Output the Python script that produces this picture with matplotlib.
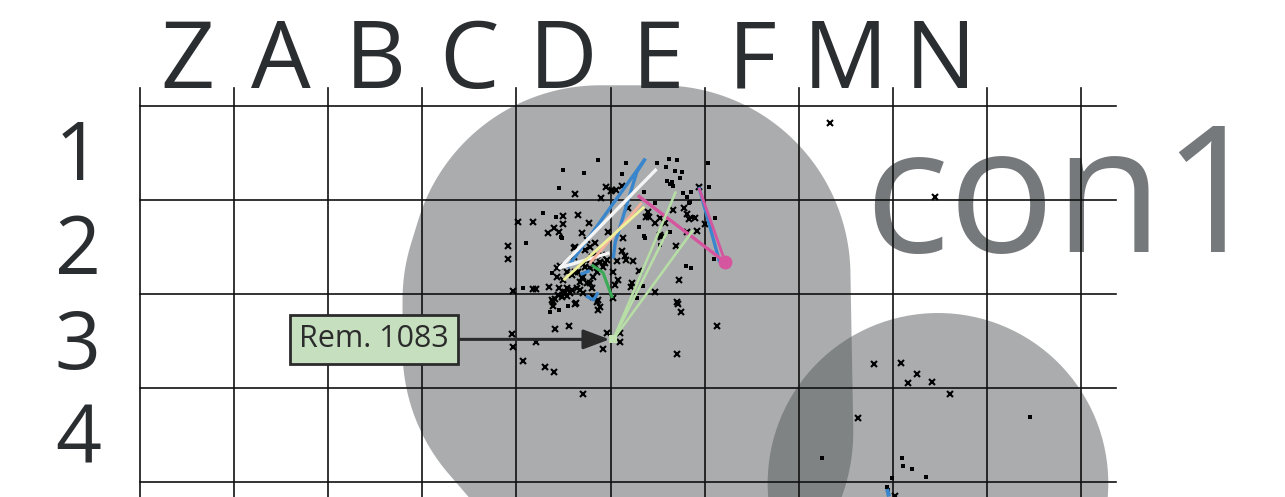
import numpy as np
import matplotlib.pyplot as plt
from matplotlib.patches import Polygon, Circle

plt.rcParams['font.family'] = ['Open Sans', 'DejaVu Sans']

# grid: one square = 1 unit, origin at top-left of the grid, y grows downward
col_labels = ['Z', 'A', 'B', 'C', 'D', 'E', 'F', 'M', 'N']
row_labels = ['1', '2', '3', '4']
vlines = np.arange(0, 11)
hlines = np.arange(0, 5)

# finds: crosses
cross_x = [4.62, 4.95, 5.01, 4.90, 4.02, 4.18, 4.50, 4.65, 4.50, 4.77, 4.40, 4.45, 4.34, 4.70, 4.97,
           5.02, 5.06, 5.12, 5.94, 5.19, 5.40, 5.38, 5.41, 5.66, 5.78, 5.81, 5.83, 5.90, 5.53, 5.47,
           5.58, 5.92, 6.00, 5.81, 5.53, 5.13, 3.91, 3.91, 3.96, 4.18, 4.21, 4.35, 4.43, 4.46, 4.50,
           4.73, 4.61, 4.61, 4.80, 4.71, 4.84, 4.45, 4.50, 4.54, 4.59, 4.64, 4.48, 4.54, 4.38, 4.39,
           4.63, 4.86, 4.89, 4.87, 4.68, 4.75, 4.80, 4.71, 4.78, 4.84, 4.89, 4.92, 4.96, 4.91, 4.62,
           4.59, 4.54, 4.41, 4.44, 4.52, 4.57, 4.70, 4.78, 4.81, 4.86, 4.94, 4.86, 4.78, 4.75, 4.62,
           4.78, 4.73, 4.65, 4.43, 4.87, 4.81, 4.68, 4.71, 5.54, 5.70, 5.12, 5.07, 5.15, 5.16, 5.24,
           5.30, 5.03, 5.08, 5.05, 5.23, 5.22, 5.47, 5.73, 5.71, 5.72, 5.75, 5.03, 3.95, 3.96, 4.41,
           4.56, 4.21, 4.07, 4.30, 4.40, 4.92, 4.96, 5.10, 5.10, 5.71, 6.13, 4.71, 4.62, 4.39, 7.33,
           8.45, 7.80, 8.09, 8.26, 8.16, 8.42, 8.61, 7.63, 8.02]
cross_y = [0.94, 0.86, 0.90, 0.98, 1.23, 1.23, 1.17, 1.16, 1.25, 1.24, 1.30, 1.34, 1.35, 1.35, 1.34,
           0.89, 0.89, 0.85, 0.86, 1.08, 1.13, 1.18, 1.18, 1.11, 1.08, 1.15, 1.20, 1.19, 1.19, 1.24,
           1.24, 1.33, 1.25, 1.34, 1.37, 1.40, 1.49, 1.63, 1.97, 1.94, 1.94, 1.92, 1.72, 1.70, 1.85,
           1.53, 1.51, 1.60, 1.60, 1.68, 1.46, 1.93, 1.98, 1.93, 1.96, 1.93, 2.03, 2.02, 2.06, 2.13,
           2.09, 2.08, 2.14, 2.17, 1.87, 1.88, 1.93, 1.82, 1.72, 1.69, 1.66, 1.71, 1.64, 1.58, 1.76,
           1.80, 1.76, 2.05, 2.01, 1.98, 1.99, 1.83, 1.88, 1.82, 1.76, 1.67, 1.58, 1.50, 1.42, 1.50,
           1.64, 1.71, 1.76, 1.82, 2.06, 2.03, 1.96, 1.99, 1.39, 1.49, 1.54, 1.65, 1.59, 1.64, 1.65,
           1.75, 1.76, 1.85, 1.90, 1.88, 1.92, 1.98, 1.85, 2.08, 2.10, 2.19, 2.04, 2.42, 2.56, 2.37,
           2.34, 2.51, 2.71, 2.77, 2.83, 2.58, 2.41, 2.41, 2.51, 2.64, 2.34, 3.06, 2.10, 2.08, 0.18,
           0.97, 2.74, 2.73, 2.85, 2.94, 2.93, 3.06, 3.32, 4.14]

# finds: small squares
dot_x = [4.87, 4.50, 4.72, 4.45, 4.28, 4.42, 4.47, 5.16, 5.12, 5.49, 5.62, 5.59, 5.69, 5.74, 5.60,
         5.63, 5.66, 5.86, 5.77, 5.81, 6.04, 6.05, 5.36, 5.47, 5.83, 6.11, 5.30, 5.63, 5.37, 4.10,
         4.48, 4.07, 4.38, 4.45, 4.55, 4.36, 5.80, 5.86, 5.35, 5.28, 5.53, 6.10, 5.36, 5.71, 5.76,
         5.65, 5.84, 5.88, 9.46, 7.25, 8.10, 8.11, 8.20, 8.35, 7.99, 7.94, 7.95]
dot_y = [0.57, 0.68, 0.71, 0.87, 1.14, 1.18, 1.39, 0.61, 0.72, 0.61, 0.56, 0.65, 0.69, 0.77, 0.80,
         0.83, 0.85, 0.91, 0.92, 0.97, 0.61, 0.86, 0.91, 1.03, 1.03, 1.19, 1.29, 1.34, 1.40, 1.46,
         1.40, 1.93, 1.77, 2.17, 2.13, 2.19, 1.70, 1.72, 1.91, 2.04, 1.48, 1.63, 1.38, 0.57, 0.70,
         0.81, 1.02, 1.18, 3.31, 3.74, 3.74, 3.83, 3.86, 3.94, 3.95, 4.05, 4.08]

# refits (polylines) : (x list, y list, colour, width)
refits = [
    ([5.37, 4.54], [0.56, 1.72], '#3a86cc', 2.4),
    ([5.37, 5.28, 5.05, 5.03], [0.56, 0.70, 1.45, 1.62], '#3a86cc', 2.4),
    ([5.94, 6.16], [0.86, 1.66], '#3a86cc', 2.4),
    ([4.74, 4.82, 4.87], [2.02, 2.06, 1.98], '#3a86cc', 2.4),
    ([4.68, 4.78], [1.79, 1.75], '#3a86cc', 2.4),
    ([7.94, 7.96], [4.07, 4.15], '#3a86cc', 3.0),
    ([5.49, 4.46, 4.99], [0.67, 1.72, 1.56], '#f4f4f4', 2.4),
    ([5.33, 4.78], [1.03, 1.67], '#f7b29c', 2.0),
    ([5.36, 4.50], [1.07, 1.85], '#eef09a', 2.0),
    ([4.80, 4.92, 5.02], [1.69, 1.77, 2.04], '#3aaa55', 2.2),
    ([5.29, 6.22], [0.95, 1.66], '#d5559f', 2.4),
    ([5.94, 6.22], [0.87, 1.66], '#d5559f', 2.0),
]
rem_x, rem_y = 5.03, 2.48
rem_targets_x = [5.69, 5.60, 5.87]
rem_targets_y = [0.92, 1.34, 1.33]
big_dot = (6.22, 1.66)

# zones
zone_core = np.array([[4.89, 1.80], [5.53, 1.80], [5.56, 3.46], [4.81, 2.59], [4.81, 2.06]])
zone_radius = 2.02
zone2_center = (8.48, 4.01)
zone2_radius = 1.81

fig = plt.figure(figsize=(12.85, 4.97), dpi=100)
ax = fig.add_axes([0, 0, 1, 1])
ax.set_xlim(-140 / 94.1, 1145 / 94.1)
ax.set_ylim(391 / 94.1, -106 / 94.1)
ax.axis('off')

# buffered zone outline (Minkowski sum of core polygon and a disc)
th = np.linspace(0, 2 * np.pi, 720)
u = np.column_stack([np.cos(th), np.sin(th)])
best = zone_core[np.argmax(zone_core @ u.T, axis=0)]
outline = best + zone_radius * u
ax.add_patch(Polygon(outline, closed=True, fc='#565b5d', ec='none', alpha=0.5, zorder=1))
ax.add_patch(Circle(zone2_center, zone2_radius, fc='#565b5d', ec='none', alpha=0.5, zorder=1))

ax.text(7.70, 1.55, 'con1', fontsize=127, color='#75797b', ha='left', va='baseline', zorder=1.5)

for v in vlines:
    ax.plot([v, v], [-0.19, 4.3], color='#111111', lw=1.2, zorder=2)
for h in hlines:
    ax.plot([0, 10.37], [h, h], color='#111111', lw=1.2, zorder=2)

for i, lab in enumerate(col_labels):
    ax.text(i + 0.5, -0.19, lab, fontsize=68, color='#2b2e30', ha='center', va='baseline')
for i, lab in enumerate(row_labels):
    ax.text(-0.66, i + 0.79, lab, fontsize=58, color='#2b2e30', ha='center', va='baseline')

ax.plot(cross_x, cross_y, 'x', color='black', ms=4.3, mew=1.5, zorder=3)
ax.plot(dot_x, dot_y, 's', color='black', ms=2.6, mew=0, zorder=3)

for xs, ys, c, w in refits:
    ax.plot(xs, ys, color=c, lw=w, solid_capstyle='butt', zorder=4)
for tx, ty in zip(rem_targets_x, rem_targets_y):
    ax.plot([rem_x, tx], [rem_y, ty], color='#b7dfa5', lw=1.8, zorder=4)
ax.plot(rem_x, rem_y, 's', color='#c3e3b2', ms=6, mew=0, zorder=5)
ax.plot(*big_dot, 'o', color='#d5559f', ms=10, mew=0, zorder=5)

ax.annotate('Rem. 1083', xy=(rem_x - 0.04, rem_y), xytext=(2.49, rem_y),
            ha='center', va='center', fontsize=22, color='#2b2b2b', zorder=6,
            bbox=dict(boxstyle='square,pad=0.3', fc='#c6e0bf', ec='#2b2b2b', lw=2),
            arrowprops=dict(arrowstyle='-|>,head_length=0.8,head_width=0.3', color='#2b2b2b',
                            lw=2.2, mutation_scale=20, shrinkA=0, shrinkB=0))

fig.savefig('out.png', dpi=100)
